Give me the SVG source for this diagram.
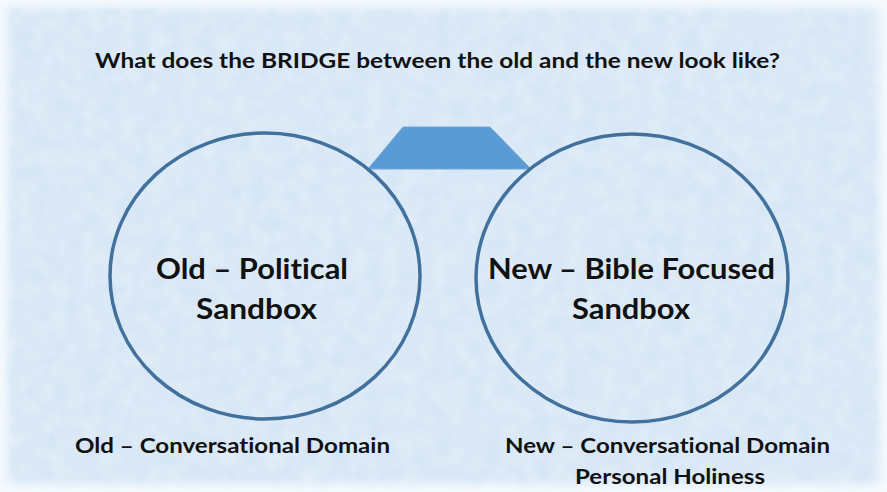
<svg xmlns="http://www.w3.org/2000/svg" width="887" height="492" viewBox="0 0 887 492">
<style>
.t{font-family:Lato,"Open Sans","Liberation Sans",sans-serif;font-weight:bold;fill:#111;text-anchor:middle;font-variant-ligatures:none;font-feature-settings:"liga" 0,"clig" 0,"dlig" 0}
.big{font-size:29px}
.sm{font-size:20px}
.ring{fill:none;stroke:#41719c;stroke-width:3.5}
</style>
<defs>
<filter id="tex" x="0" y="0" width="100%" height="100%">
<feTurbulence type="fractalNoise" baseFrequency="0.06" numOctaves="3" seed="4"/>
<feColorMatrix type="matrix" values="0 0 0 0 1  0 0 0 0 1  0 0 0 0 1  0 0 0 0.4 -0.05"/>
</filter>
<filter id="edge" x="-5%" y="-5%" width="110%" height="110%"><feGaussianBlur stdDeviation="5"/></filter>
</defs>
<g id="background">
<rect width="887" height="492" fill="#d4e5f5"/>
<rect width="887" height="492" filter="url(#tex)"/>
<rect x="0" y="0" width="887" height="492" fill="none" stroke="#f7fbfe" stroke-width="14" filter="url(#edge)"/>
</g>
<g id="title"><text class="t sm" x="437.5" y="68" textLength="685" lengthAdjust="spacingAndGlyphs">What does the BRIDGE between the old and the new look like?</text></g>
<g id="bridge"><polygon points="403,127 490,127 531,169 368,169" fill="#5b9bd5" stroke="#6fa6da" stroke-width="1"/></g>
<g id="old-sandbox">
<ellipse class="ring" cx="265" cy="276" rx="155" ry="143"/>
<text class="t big" x="252" y="279" textLength="192" lengthAdjust="spacingAndGlyphs">Old – Political</text>
<text class="t big" x="256.5" y="319" textLength="121" lengthAdjust="spacingAndGlyphs">Sandbox</text>
</g>
<g id="new-sandbox">
<ellipse class="ring" cx="632" cy="278" rx="156" ry="144"/>
<text class="t big" x="631.5" y="279" textLength="287" lengthAdjust="spacingAndGlyphs">New – Bible Focused</text>
<text class="t big" x="631" y="319" textLength="118" lengthAdjust="spacingAndGlyphs">Sandbox</text>
</g>
<g id="connectors"></g>
<g id="old-domain"><text class="t sm" x="232.5" y="453" textLength="315" lengthAdjust="spacingAndGlyphs">Old – Conversational Domain</text></g>
<g id="new-domain">
<text class="t sm" x="667.5" y="453" textLength="325" lengthAdjust="spacingAndGlyphs">New – Conversational Domain</text>
<text class="t sm" x="670" y="484" textLength="190" lengthAdjust="spacingAndGlyphs">Personal Holiness</text>
</g>
</svg>
